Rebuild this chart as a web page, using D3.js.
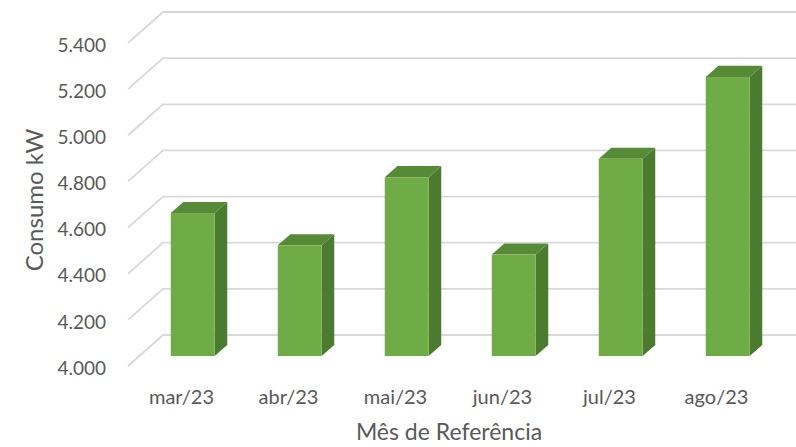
<!DOCTYPE html>
<html>
<head>
<meta charset="utf-8">
<script src="https://cdn.jsdelivr.net/npm/d3@7"></script>
<style>
  html, body { margin: 0; padding: 0; background: #ffffff; }
  svg { display: block; }
  text { font-family: Lato, "Open Sans", sans-serif; fill: #595959; }
</style>
</head>
<body>
<svg id="chart" width="796" height="447"></svg>
<script>
// ---- data ----
const months = ["mar/23", "abr/23", "mai/23", "jun/23", "jul/23", "ago/23"];
const consumo = [4620, 4480, 4775, 4440, 4855, 5210];
const yTicks = [4000, 4200, 4400, 4600, 4800, 5000, 5200, 5400];
const yTitle = "Consumo kW";
const xTitle = "Mês de Referência";

// ---- layout ----
const W = 796, H = 447;
const svg = d3.select("#chart");
const depthX = 35, depthY = -31;   // oblique projection of full depth
const t0 = 0.32, t1 = 0.68;         // bar depth position (fraction of depth)
const fmt = v => d3.format(",.3f")(v / 1000).replace(",", "");

const x = d3.scaleBand().domain(months).range([128, 770]).padding(0);
const y = d3.scaleLinear().domain([4000, 5400]).range([366, 43]);

// gridlines: diagonal on left wall + horizontal on back wall
const grid = svg.append("g");
yTicks.forEach(v => {
  const yf = y(v);
  grid.append("path")
    .attr("d", `M${x.range()[0]},${yf} L${x.range()[0] + depthX},${yf + depthY} L${W + 20},${yf + depthY}`)
    .attr("fill", "none")
    .attr("stroke", "#D9D9D9")
    .attr("stroke-width", 1.8);
});

// y tick labels
svg.append("g").selectAll("text").data(yTicks).join("text")
  .attr("x", 106)
  .attr("y", d => y(d) + 2)
  .attr("dy", "0.35em")
  .attr("text-anchor", "end")
  .style("font-size", "19px")
  .text(d => fmt(d));

// bars
const bw = x.bandwidth() * 0.41;
const ddx = (t1 - t0) * depthX, ddy = (t1 - t0) * depthY;
const bars = svg.append("g");
months.forEach((m, i) => {
  const xc = x(m) + x.bandwidth() / 2 + t0 * depthX;
  const x0 = xc - bw / 2, x1 = xc + bw / 2;
  const yt = y(consumo[i]) + t0 * depthY;
  const yb = y(4000) + t0 * depthY;
  const g = bars.append("g");
  g.append("polygon")
    .attr("points", [[x1, yt], [x1 + ddx, yt + ddy], [x1 + ddx, yb + ddy], [x1, yb]].map(p => p.join(",")).join(" "))
    .attr("fill", "#4B7B2E");
  g.append("polygon")
    .attr("points", [[x0, yt], [x1, yt], [x1 + ddx, yt + ddy], [x0 + ddx, yt + ddy]].map(p => p.join(",")).join(" "))
    .attr("fill", "#578A37");
  g.append("rect")
    .attr("x", x0).attr("y", yt)
    .attr("width", bw).attr("height", yb - yt)
    .attr("fill", "#6FAC46");
});

// category labels
svg.append("g").selectAll("text").data(months).join("text")
  .attr("x", d => x(d) + x.bandwidth() / 2)
  .attr("y", 404)
  .attr("text-anchor", "middle")
  .style("font-size", "20px")
  .text(d => d);

// axis titles
svg.append("text")
  .attr("x", (x.range()[0] + x.range()[1]) / 2)
  .attr("y", 440)
  .attr("text-anchor", "middle")
  .style("font-size", "23px")
  .text(xTitle);

svg.append("text")
  .attr("transform", "translate(43,200) rotate(-90)")
  .attr("text-anchor", "middle")
  .style("font-size", "24px")
  .text(yTitle);
</script>
</body>
</html>
